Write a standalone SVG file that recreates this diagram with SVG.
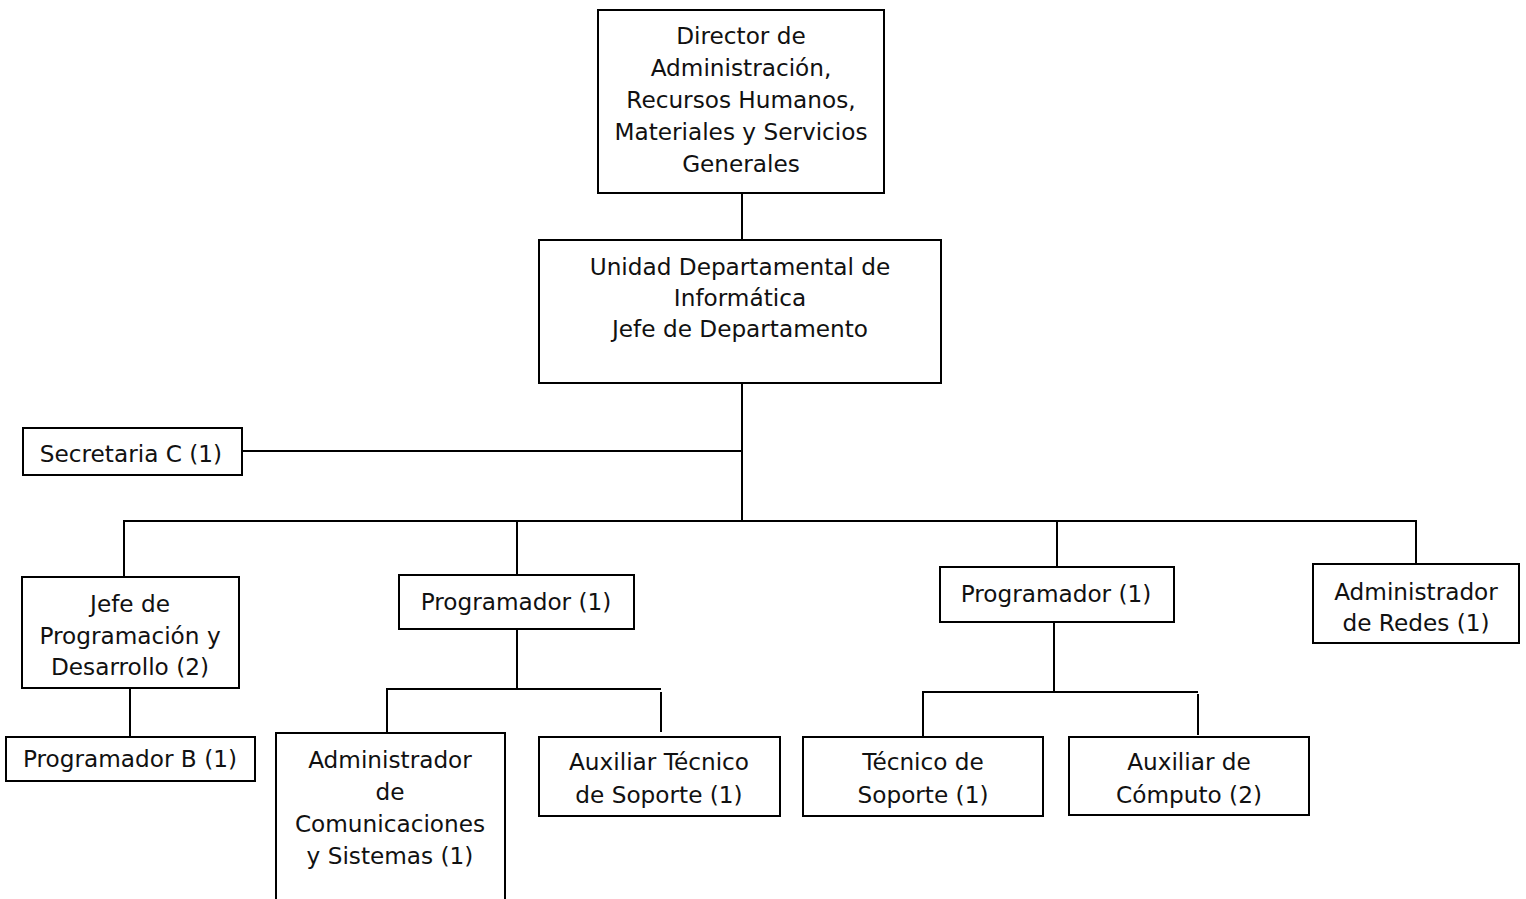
<svg xmlns="http://www.w3.org/2000/svg" width="1526" height="899" viewBox="0 0 1526 899">
<style>
rect{fill:#fff;stroke:#000;stroke-width:2}
text{font-family:"DejaVu Sans",Verdana,sans-serif;font-size:23.2px;fill:#111;text-anchor:middle}
#connectors line{stroke:#000;stroke-width:2}
</style>
<rect x="0" y="0" width="1526" height="899" style="stroke:none"/>
<g id="connectors">
<line x1="742" y1="193" x2="742" y2="240"/>
<line x1="742" y1="383" x2="742" y2="522"/>
<line x1="241" y1="451" x2="742" y2="451"/>
<line x1="123" y1="521" x2="1417" y2="521"/>
<line x1="124" y1="520" x2="124" y2="577"/>
<line x1="517" y1="520" x2="517" y2="575"/>
<line x1="1057" y1="520" x2="1057" y2="567"/>
<line x1="1416" y1="520" x2="1416" y2="564"/>
<line x1="130" y1="688" x2="130" y2="737"/>
<line x1="517" y1="629" x2="517" y2="689"/>
<line x1="386" y1="689" x2="661" y2="689"/>
<line x1="387" y1="688" x2="387" y2="733"/>
<line x1="661" y1="692" x2="661" y2="732"/>
<line x1="1054" y1="622" x2="1054" y2="692"/>
<line x1="922" y1="692" x2="1198" y2="692"/>
<line x1="923" y1="691" x2="923" y2="737"/>
<line x1="1198" y1="694" x2="1198" y2="735"/>
</g>
<g id="director">
<rect x="598" y="10" width="286" height="183"/>
<text x="741" y="44">Director de</text>
<text x="741" y="76">Administración,</text>
<text x="741" y="108">Recursos Humanos,</text>
<text x="741" y="140">Materiales y Servicios</text>
<text x="741" y="172">Generales</text>
</g>
<g id="unidad">
<rect x="539" y="240" width="402" height="143"/>
<text x="740" y="275">Unidad Departamental de</text>
<text x="740" y="306">Informática</text>
<text x="740" y="337">Jefe de Departamento</text>
</g>
<g id="secretaria">
<rect x="23" y="428" width="219" height="47"/>
<text x="131" y="462">Secretaria C (1)</text>
</g>
<g id="jefe-prog">
<rect x="22" y="577" width="217" height="111"/>
<text x="130" y="612">Jefe de</text>
<text x="130" y="644">Programación y</text>
<text x="130" y="675">Desarrollo (2)</text>
</g>
<g id="programador-b">
<rect x="6" y="737" width="249" height="44"/>
<text x="130" y="767">Programador B (1)</text>
</g>
<g id="programador-1a">
<rect x="399" y="575" width="235" height="54"/>
<text x="516" y="610">Programador (1)</text>
</g>
<g id="admin-com">
<rect x="276" y="733" width="229" height="180"/>
<text x="390" y="768">Administrador</text>
<text x="390" y="800">de</text>
<text x="390" y="832">Comunicaciones</text>
<text x="390" y="864">y Sistemas (1)</text>
</g>
<g id="aux-tecnico">
<rect x="539" y="737" width="241" height="79"/>
<text x="659" y="770">Auxiliar Técnico</text>
<text x="659" y="803">de Soporte (1)</text>
</g>
<g id="programador-1b">
<rect x="940" y="567" width="234" height="55"/>
<text x="1056" y="602">Programador (1)</text>
</g>
<g id="tecnico">
<rect x="803" y="737" width="240" height="79"/>
<text x="923" y="770">Técnico de</text>
<text x="923" y="803">Soporte (1)</text>
</g>
<g id="aux-computo">
<rect x="1069" y="737" width="240" height="78"/>
<text x="1189" y="770">Auxiliar de</text>
<text x="1189" y="803">Cómputo (2)</text>
</g>
<g id="admin-redes">
<rect x="1313" y="564" width="206" height="79"/>
<text x="1416" y="600">Administrador</text>
<text x="1416" y="631">de Redes (1)</text>
</g>
</svg>
